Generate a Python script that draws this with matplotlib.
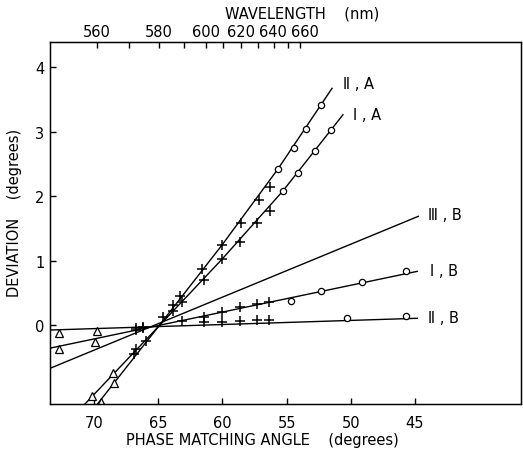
import numpy as np
import matplotlib
matplotlib.use('Agg')
import matplotlib.pyplot as plt
from matplotlib.transforms import ScaledTranslation

# curves: vertices in phase matching angle / deviation
IIA_line_ang = [69.79, 64.99, 60.03, 55.67, 51.46]
IIA_line_dev = [-1.24, -0.026, 1.24, 2.42, 3.67]
IA_line_ang = [70.78, 64.99, 60.03, 55.28, 50.61]
IA_line_dev = [-1.24, -0.026, 1.02, 2.08, 3.26]
IIIB_line_ang = [73.43, 44.74]
IIIB_line_dev = [-0.672, 1.685]
IB_line_ang = [73.43, 44.82]
IB_line_dev = [-0.359, 0.832]
IIB_line_ang = [73.43, 44.82]
IIB_line_dev = [-0.078, 0.104]

# measured points: circles, crosses, triangles
IIA_o_ang = [52.32, 53.45, 54.39, 55.65]
IIA_o_dev = [3.41, 3.04, 2.74, 2.42]
IIA_p_ang = [56.29, 57.15, 58.57, 60.05, 61.61, 63.30, 63.87, 64.6, 65.95, 66.88]
IIA_p_dev = [2.14, 1.94, 1.58, 1.245, 0.87, 0.45, 0.31, 0.12, -0.25, -0.45]
IIA_t_ang = [68.42, 69.49]
IIA_t_dev = [-0.90, -1.19]

IA_o_ang = [51.57, 52.80, 54.12, 55.26]
IA_o_dev = [3.03, 2.70, 2.35, 2.07]
IA_p_ang = [56.27, 57.28, 58.60, 60.05, 61.47, 63.17, 63.85, 66.73]
IA_p_dev = [1.76, 1.58, 1.28, 1.02, 0.69, 0.36, 0.22, -0.37]
IA_t_ang = [68.50, 70.16]
IA_t_dev = [-0.744, -1.10]

IB_o_ang = [54.66, 52.34, 49.15, 45.72]
IB_o_dev = [0.377, 0.532, 0.662, 0.832]
IB_p_ang = [66.73, 66.16, 63.18, 61.43, 60.05, 58.63, 57.33, 56.35]
IB_p_dev = [-0.07, -0.05, 0.067, 0.119, 0.197, 0.274, 0.326, 0.361]
IB_t_ang = [72.73, 69.92]
IB_t_dev = [-0.372, -0.258]

IIB_o_ang = [50.3, 45.72]
IIB_o_dev = [0.104, 0.144]
IIB_p_ang = [66.73, 66.16, 61.43, 60.05, 58.63, 57.33, 56.35]
IIB_p_dev = [-0.04, -0.03, 0.051, 0.042, 0.067, 0.082, 0.082]
IIB_t_ang = [72.73, 69.79]
IIB_t_dev = [-0.129, -0.098]

# wavelength scale (nm) and matching angle at each top tick
wl_nm = [560, 570, 580, 590, 600, 610, 620, 630, 640, 650, 660]
wl_ang = [69.77, 67.27, 64.94, 63.0, 61.28, 59.95, 58.55, 57.23, 55.98, 54.9, 53.96]

x_ticks = [70, 65, 60, 55, 50, 45]
y_ticks = [0, 1, 2, 3, 4]

plt.rcParams['font.family'] = 'DejaVu Sans'
fs = 10.5
W, H = 523, 452

fig = plt.figure(figsize=(W / 100, H / 100), dpi=100)
ax = fig.add_axes([50 / W, 1 - 405 / H, 471 / W, 362 / H])

for a, d in [(IIA_line_ang, IIA_line_dev), (IA_line_ang, IA_line_dev),
             (IIIB_line_ang, IIIB_line_dev), (IB_line_ang, IB_line_dev),
             (IIB_line_ang, IIB_line_dev)]:
    ax.plot(a, d, color='black', lw=1.0)

groups = [(IIA_o_ang, IIA_o_dev, IIA_p_ang, IIA_p_dev, IIA_t_ang, IIA_t_dev),
          (IA_o_ang, IA_o_dev, IA_p_ang, IA_p_dev, IA_t_ang, IA_t_dev),
          (IB_o_ang, IB_o_dev, IB_p_ang, IB_p_dev, IB_t_ang, IB_t_dev),
          (IIB_o_ang, IIB_o_dev, IIB_p_ang, IIB_p_dev, IIB_t_ang, IIB_t_dev)]
for oa, od, pa, pd, ta, td in groups:
    ax.plot(oa, od, 'o', ms=4.5, mfc='white', mec='black', mew=0.9)
    ax.plot(pa, pd, '+', ms=7, color='black', mew=1.1)
    ax.plot(ta, td, '^', ms=5.5, mfc='white', mec='black', mew=0.9)

ax.set_xlim(73.43, 36.74)
ax.set_ylim(-1.225, 4.388)
ax.set_xticks(x_ticks)
ax.set_yticks(y_ticks)
ax.tick_params(direction='in', length=4, width=1, labelsize=fs)
ax.tick_params(axis='x', pad=8)
ax.tick_params(axis='y', pad=4)
for s in ax.spines.values():
    s.set_linewidth(1.0)

# top wavelength axis
top = ax.twiny()
top.set_xlim(ax.get_xlim())
top.set_xticks(wl_ang)
top.set_xticklabels([str(w) if w % 20 == 0 else '' for w in wl_nm])
top.tick_params(direction='in', length=4, width=1, labelsize=fs, pad=2)
# crowded end of the scale: nudge the last labels apart like the original
shifts = {8: -1, 10: 5}
for i, t in enumerate(top.xaxis.get_major_ticks()):
    if i in shifts:
        t.label2.set_transform(t.label2.get_transform() +
                               ScaledTranslation(shifts[i] / 100, 0, fig.dpi_scale_trans))

# axis titles
fig.text(302 / W, 1 - 14 / H, 'WAVELENGTH    (nm)', fontsize=fs, ha='center', va='center')
fig.text(262 / W, 1 - 441 / H, 'PHASE MATCHING ANGLE    (degrees)', fontsize=fs,
         ha='center', va='center')
fig.text(15 / W, 1 - 213 / H, 'DEVIATION    (degrees)', fontsize=fs, rotation=90,
         ha='center', va='center')

# curve labels
ax.text(50.6, 3.74, 'Ⅱ , A', fontsize=fs, va='center')
ax.text(49.8, 3.27, 'Ⅰ , A', fontsize=fs, va='center')
ax.text(44.0, 1.72, 'Ⅲ , B', fontsize=fs, va='center')
ax.text(43.8, 0.84, 'Ⅰ , B', fontsize=fs, va='center')
ax.text(44.0, 0.11, 'Ⅱ , B', fontsize=fs, va='center')

plt.savefig('out.png', dpi=100)
